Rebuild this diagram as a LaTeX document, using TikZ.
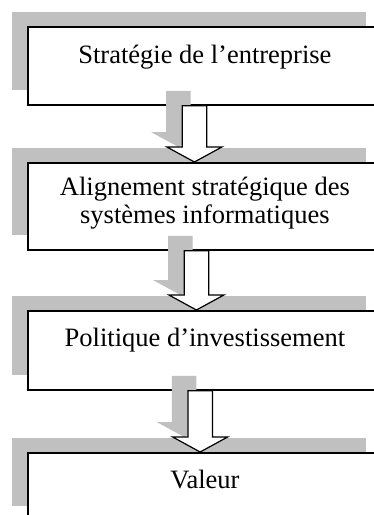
\documentclass[tikz,border=0pt]{standalone}
\usepackage{fontspec}
\setmainfont{Liberation Serif}
\usetikzlibrary{calc,shadows}
\definecolor{shadegrey}{RGB}{192,192,192}

\tikzset{
  stage/.style={draw=black, line width=1.8pt, fill=white, anchor=north west,
    minimum width=354pt, inner sep=0pt,
    drop shadow={shadow xshift=-16pt, shadow yshift=15pt, fill=shadegrey, opacity=1}},
  label/.style={anchor=base, align=center, inner sep=0pt,
    font=\fontsize{26.5}{28}\selectfont},
  arrowbody/.style={draw=black, line width=1.2pt, fill=white, line join=miter},
  arrowshade/.style={fill=shadegrey}
}

% block arrow from the bottom of #1 to the top of #2, shifted #3 from the centre
\newcommand\blockarrow[3]{%
  \path (#1.south) ++(#3,0) coordinate (#1-out)
        (#2.north) ++(#3,0) coordinate (#2-in);
  \fill[arrowshade] let \p1=(#1-out), \p2=(#2-in) in
    (\x1-28.25pt,\y1+15pt) -- (\x1-3.75pt,\y1+15pt) -- (\x1-3.75pt,\y2+30pt)
    -- (\x1+11.5pt,\y2+30pt) -- (\x2-16pt,\y2+15pt) -- (\x1-43.5pt,\y2+30pt)
    -- (\x1-28.25pt,\y2+30pt) -- cycle;
  \draw[arrowbody] let \p1=(#1-out), \p2=(#2-in) in
    (\x1-12.25pt,\y1) -- (\x1+12.25pt,\y1) -- (\x1+12.25pt,\y2+15pt)
    -- (\x1+27.5pt,\y2+15pt) -- (\x2,\y2) -- (\x1-27.5pt,\y2+15pt)
    -- (\x1-12.25pt,\y2+15pt) -- cycle;
}

\begin{document}
\begin{tikzpicture}[x=1pt, y=-1pt]
  \useasboundingbox (0,0) rectangle (374,515);
  \clip (0,0) rectangle (374,515);

  % the four stages
  \node[stage, minimum height=78pt] (b1) at (27,26)  {};
  \node[stage, minimum height=87pt] (b2) at (27,162) {};
  \node[stage, minimum height=79pt] (b3) at (27,310) {};
  \node[stage, minimum height=68pt] (b4) at (27,452) {};

  % stage titles (base anchor sits on the last line)
  \node[label] (t1) at ($(b1.north)+(0,37)$) {Stratégie de l’entreprise};
  \node[label] (t2) at ($(b2.north)+(0,61)$) {Alignement stratégique des\\systèmes informatiques};
  \node[label] (t3) at ($(b3.north)+(0,36)$) {Politique d’investissement};
  \node[label] (t4) at ($(b4.north)+(0,36)$) {Valeur};

  % arrows between consecutive stages
  \blockarrow{b1}{b2}{-10.5}
  \blockarrow{b2}{b3}{-8.5}
  \blockarrow{b3}{b4}{-4.75}
\end{tikzpicture}
\end{document}
